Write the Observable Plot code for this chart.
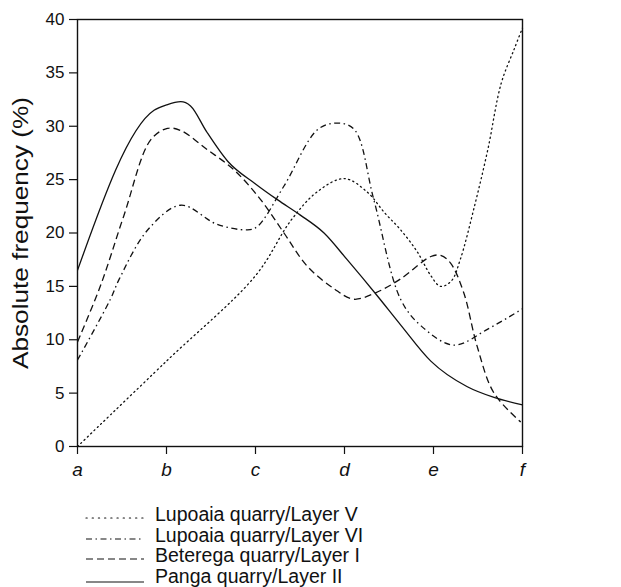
<!DOCTYPE html>
<html><head><meta charset="utf-8">
<script src="https://cdn.jsdelivr.net/npm/d3@7"></script>
<script src="https://cdn.jsdelivr.net/npm/@observablehq/plot@0.6"></script>
<style>
body{margin:0;background:#fff;font-family:"Liberation Sans",Arial,sans-serif;color:#111;}
#chart{width:621px;height:490px;}
#legend{position:relative;width:621px;height:97px;overflow:hidden;}
.row{position:absolute;left:85px;height:22px;display:flex;align-items:center;font-size:19.5px;line-height:22px;white-space:nowrap;}
.row svg{margin-right:10px;}
</style></head><body>
<div id="chart"></div>
<div id="legend"></div>
<script>
// ---- data ----
const categories = ["a", "b", "c", "d", "e", "f"];
const yTicks = [0, 5, 10, 15, 20, 25, 30, 35, 40];
const yLabel = "Absolute frequency (%)";
const seriesNames = ["Lupoaia quarry/Layer V", "Lupoaia quarry/Layer VI", "Beterega quarry/Layer I", "Panga quarry/Layer II"];

const lupoaiaV_x = [0, 1, 2, 2.4, 2.7, 3.0, 3.26, 3.45, 3.63, 3.82, 3.97, 4.08, 4.2, 4.3, 4.46, 4.61, 4.76, 4.91, 5.0];
const lupoaiaV_y = [0, 8, 16, 21.2, 23.9, 25.1, 23.8, 21.9, 20.3, 18.2, 16.0, 15.0, 15.5, 17.5, 22.5, 27.8, 34.0, 37.3, 39.2];

const lupoaiaVI_x = [0, 0.37, 0.47, 0.79, 1.16, 1.57, 1.91, 2.02, 2.32, 2.70, 2.92, 3.11, 3.33, 3.63, 3.86, 4.23, 4.61, 5];
const lupoaiaVI_y = [8.1, 13.8, 15.7, 20.3, 22.6, 20.8, 20.3, 20.6, 24.4, 29.7, 30.3, 29.7, 23.1, 13.8, 11.3, 9.5, 11.0, 12.9];

const beterega_x = [0, 0.26, 0.52, 0.82, 1.01, 1.16, 1.46, 1.76, 2.06, 2.32, 2.58, 2.88, 3.1, 3.35, 3.63, 3.97, 4.08, 4.19, 4.34, 4.49, 4.68, 4.98];
const beterega_y = [9.8, 15.1, 21.6, 28.7, 29.8, 29.6, 27.8, 25.9, 23.1, 20.0, 16.9, 14.8, 13.8, 14.4, 15.7, 17.8, 17.9, 17.2, 14.4, 9.4, 5.0, 2.3];

const panga_x = [0, 0.86, 1.0, 1.16, 1.27, 1.45, 1.69, 2.0, 2.25, 2.5, 2.77, 3.03, 3.37, 3.63, 3.97, 4.38, 4.68, 5];
const panga_y = [16.5, 31.5, 32.0, 32.3, 31.9, 29.5, 26.7, 24.6, 23.1, 21.7, 20.0, 17.5, 14.1, 11.4, 8.0, 5.6, 4.6, 3.9];

// ---- styles ----
const dashes = ["1.2,3.4", "6,3.5,1.5,3.5", "7,4", "none"];
const curves = ["catmull-rom", "catmull-rom", "catmull-rom", "monotone-x"];
const ink = "#111";

const series = [
  [lupoaiaV_x, lupoaiaV_y],
  [lupoaiaVI_x, lupoaiaVI_y],
  [beterega_x, beterega_y],
  [panga_x, panga_y]
].map(([xs, ys], k) => xs.map((x, i) => ({series: seriesNames[k], x, y: ys[i]})));

const lineMarks = series.map((d, k) => Plot.line(d, {
  x: "x", y: "y", stroke: ink, strokeWidth: 1.3,
  strokeDasharray: dashes[k] === "none" ? null : dashes[k],
  strokeLinecap: k === 0 ? "round" : "butt",
  curve: curves[k]
}));

const chart = Plot.plot({
  width: 621, height: 490,
  marginLeft: 77, marginRight: 99, marginTop: 19, marginBottom: 44,
  style: {fontFamily: "'Liberation Sans', Arial, sans-serif", color: ink, background: "#fff", overflow: "visible"},
  x: {domain: [0, categories.length - 1]},
  y: {domain: [0, 40]},
  marks: [
    ...lineMarks,
    Plot.frame({stroke: ink, strokeWidth: 1.4}),
    Plot.axisY({ticks: yTicks, tickSize: 8, tickPadding: 5, fontSize: 17, label: null, strokeWidth: 1.2}),
    Plot.axisX({ticks: d3.range(categories.length), tickFormat: i => categories[i], tickSize: 8, tickPadding: 8, fontSize: 19, fontStyle: "italic", label: null, strokeWidth: 1.2}),
    Plot.text([yLabel], {frameAnchor: "left", textAnchor: "middle", rotate: -90, dx: -57, fontSize: 22, fill: ink})
  ]
});
// stretch the y label along its run as in the reference
chart.querySelectorAll("text").forEach(t => {
  if (t.textContent === yLabel) {
    t.setAttribute("textLength", 272);
    t.setAttribute("lengthAdjust", "spacingAndGlyphs");
  }
});
document.getElementById("chart").appendChild(chart);

// ---- legend ----
const legend = document.getElementById("legend");
seriesNames.forEach((name, k) => {
  const row = document.createElement("div");
  row.className = "row";
  row.style.top = (13 + k * 20.5) + "px";
  const dash = dashes[k] === "none" ? "" : `stroke-dasharray="${k === 0 ? '1.2,5' : dashes[k]}"`;
  const ly = k === 3 ? 17 : 15;
  row.innerHTML = `<svg width="60" height="22"><line x1="1" y1="${ly}" x2="59" y2="${ly}" stroke="${ink}" stroke-width="1.2" ${dash} stroke-linecap="${k === 0 ? 'round' : 'butt'}"/></svg><span>${name}</span>`;
  legend.appendChild(row);
});
</script>
</body></html>
